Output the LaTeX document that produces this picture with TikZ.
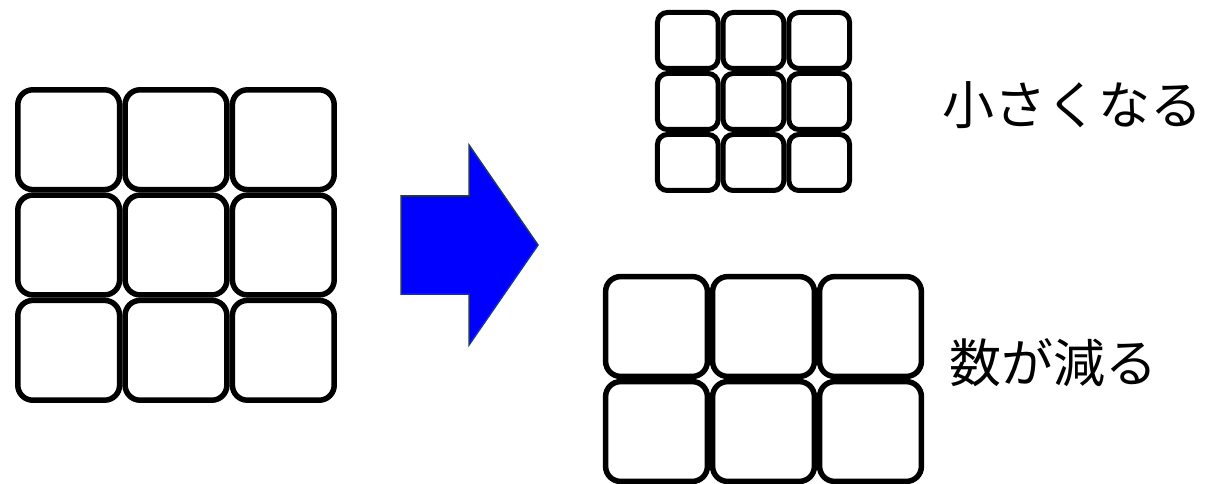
\documentclass[tikz,border=0pt]{standalone}
\usepackage{fontspec}
\newfontfamily\jpfont{Noto Sans CJK JP}
\definecolor{arrowblue}{RGB}{0,0,255}
\definecolor{arrowedge}{RGB}{32,56,100}
\begin{document}
\begin{tikzpicture}[x=1pt,y=-1pt,
  bigcell/.style={draw=black,line width=5.5pt,rounded corners=15pt,inner sep=0pt,
    minimum width=101.8pt,minimum height=99.8pt,fill=white},
  smallcell/.style={draw=black,line width=5pt,rounded corners=10pt,inner sep=0pt,
    minimum width=60.7pt,minimum height=56pt,fill=white},
  label/.style={inner sep=0pt,anchor=base west,font=\jpfont\fontsize{52pt}{60pt}\selectfont}]
\useasboundingbox (0,0) rectangle (1211,484);
% left 3x3 grid
\foreach \i/\x in {0/68.7,1/176,2/283.3}
  \foreach \j/\y in {0/139.7,1/245,2/350.3}
    \node[bigcell] (L\i\j) at (\x,\y) {};
% arrow
\filldraw[fill=arrowblue,draw=arrowedge,line width=1.5pt,line join=miter]
  (401,196) -- (469,196) -- (469,145) -- (538,245) -- (469,345) -- (469,294) -- (401,294) -- cycle;
% small 3x3 grid
\foreach \i/\x in {0/687.8,1/753.5,2/819.2}
  \foreach \j/\y in {0/40.5,1/101.5,2/162.5}
    \node[smallcell] (S\i\j) at (\x,\y) {};
% bottom 3x2 grid
\foreach \i/\x in {0/656.5,1/763.5,2/870.5}
  \foreach \j/\y in {0/326.5,1/431.5}
    \node[bigcell] (B\i\j) at (\x,\y) {};
% labels
\node[label] (t1) at (942,125) {小さくなる};
\node[label] (t2) at (949,382) {数が減る};
\end{tikzpicture}
\end{document}
